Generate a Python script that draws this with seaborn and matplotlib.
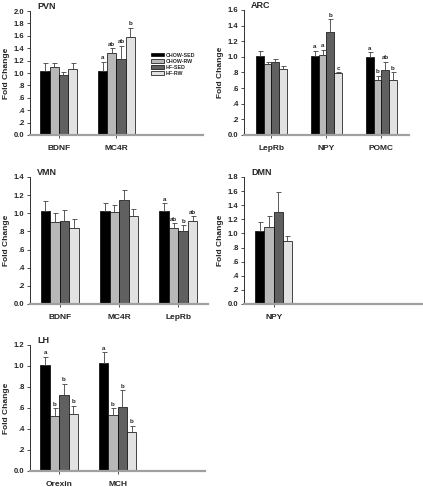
import numpy as np
import pandas as pd
import matplotlib
matplotlib.use("Agg")
import matplotlib.pyplot as plt
from matplotlib.patches import Patch
import seaborn as sns

sns.set_style("ticks")
plt.rcParams["font.family"] = ["Liberation Sans", "DejaVu Sans"]
plt.rcParams["font.weight"] = "bold"

# ── DATA ──────────────────────────────────────────────────────
groups = ["CHOW-SED", "CHOW-RW", "HF-SED", "HF-RW"]
colors = ["#000000", "#b8b8b8", "#606060", "#e2e2e2"]

pvn_genes = ["BDNF", "MC4R"]
pvn_mean = [[1.04, 1.09, 0.96, 1.07], [1.04, 1.33, 1.23, 1.58]]
pvn_sem = [[0.12, 0.07, 0.06, 0.09], [0.14, 0.07, 0.21, 0.15]]
pvn_letters = [None, ["a", "ab", "ab", "b"]]

arc_genes = ["LepRb", "NPY", "POMC"]
arc_mean = [[1.01, 0.91, 0.93, 0.85], [1.01, 1.03, 1.32, 0.79], [1.00, 0.71, 0.83, 0.70]]
arc_sem = [[0.06, 0.03, 0.04, 0.03], [0.07, 0.06, 0.16, 0.01], [0.06, 0.05, 0.11, 0.10]]
arc_letters = [None, ["a", "a", "b", "c"], ["a", "b", "ab", "b"]]

vmn_genes = ["BDNF", "MC4R", "LepRb"]
vmn_mean = [[1.03, 0.90, 0.92, 0.84], [1.02, 1.01, 1.15, 0.97], [1.02, 0.84, 0.81, 0.91]]
vmn_sem = [[0.10, 0.10, 0.12, 0.10], [0.09, 0.08, 0.11, 0.08], [0.09, 0.05, 0.06, 0.06]]
vmn_letters = [None, None, ["a", "ab", "b", "ab"]]

dmn_genes = ["NPY"]
dmn_mean = [[1.04, 1.09, 1.31, 0.89]]
dmn_sem = [[0.12, 0.15, 0.27, 0.08]]
dmn_letters = [None]

lh_genes = ["Orexin", "MCH"]
lh_mean = [[1.01, 0.52, 0.72, 0.54], [1.03, 0.53, 0.61, 0.37]]
lh_sem = [[0.08, 0.08, 0.11, 0.08], [0.10, 0.07, 0.16, 0.06]]
lh_letters = [["a", "b", "b", "b"], ["a", "b", "b", "b"]]


def draw_panel(fig, rect, name, genes, means, sems, letters, ymax, gw):
    ax = fig.add_axes(rect)
    df = pd.DataFrame([(g, grp, means[i][j], sems[i][j])
                       for i, g in enumerate(genes) for j, grp in enumerate(groups)],
                      columns=["gene", "group", "value", "sem"])
    sns.barplot(data=df, x="gene", y="value", hue="group", order=genes,
                hue_order=groups, palette=colors, width=gw, edgecolor="black",
                linewidth=0.5, errorbar=None, legend=False, ax=ax)
    # upper error bars + significance letters
    bar_conts = list(ax.containers)
    for j, cont in enumerate(bar_conts):
        for i, bar in enumerate(cont.patches):
            x = bar.get_x() + bar.get_width() / 2
            h = bar.get_height()
            e = sems[i][j]
            ax.errorbar(x, h, yerr=[[0], [e]], fmt="none", ecolor="#404040",
                        elinewidth=0.6, capsize=1.8, capthick=0.6)
            if letters[i] is not None:
                ax.annotate(letters[i][j], (x, h + e), xytext=(0, 1),
                            textcoords="offset points", ha="center", va="bottom",
                            fontsize=4.5, fontweight="bold")
    ax.set_xlim(-0.5, 2.5)
    ax.set_ylim(0, ymax)
    ticks = np.arange(0, ymax + 0.01, 0.2)
    labs = []
    for v in ticks:
        s = f"{v:.1f}"
        if s.startswith("0.") and v > 0:
            s = s[1:]
        labs.append(s)
    ax.set_yticks(ticks)
    ax.set_yticklabels(labs, fontsize=5.5, fontweight="bold")
    ax.tick_params(axis="y", length=2.5, width=0.6, pad=1.5, color="#303030")
    ax.tick_params(axis="x", length=2.5, width=0.6, pad=5, color="#303030")
    for lab in ax.get_xticklabels():
        lab.set_fontsize(6)
        lab.set_fontweight("bold")
    ax.set_xlabel("")
    ax.set_ylabel("Fold Change", fontsize=6, fontweight="bold", labelpad=3)
    sns.despine(ax=ax)
    ax.spines["bottom"].set_color("#a0a0a0")
    ax.spines["bottom"].set_linewidth(1.6)
    ax.spines["left"].set_color("#303030")
    ax.spines["left"].set_linewidth(0.7)
    ax.text(0.04, 1.035, name, transform=ax.transAxes, fontsize=6.5,
            fontweight="bold", ha="left", va="center")
    return ax


fig = plt.figure(figsize=(4.23, 4.87), dpi=100)
fig.patch.set_facecolor("white")

ax_pvn = draw_panel(fig, [0.0709, 0.7228, 0.409, 0.2546], "PVN", pvn_genes,
                    pvn_mean, pvn_sem, pvn_letters, 2.0, 0.64)
draw_panel(fig, [0.5768, 0.7228, 0.390, 0.2567], "ARC", arc_genes,
           arc_mean, arc_sem, arc_letters, 1.6, 0.56)
draw_panel(fig, [0.0709, 0.3758, 0.421, 0.2608], "VMN", vmn_genes,
           vmn_mean, vmn_sem, vmn_letters, 1.4, 0.64)
draw_panel(fig, [0.5768, 0.3758, 0.421, 0.2608], "DMN", dmn_genes,
           dmn_mean, dmn_sem, dmn_letters, 1.8, 0.62)
draw_panel(fig, [0.0709, 0.0329, 0.414, 0.2587], "LH", lh_genes,
           lh_mean, lh_sem, lh_letters, 1.2, 0.64)

handles = [Patch(facecolor=c, edgecolor="black", linewidth=0.5, label=g)
           for g, c in zip(groups, colors)]
leg = ax_pvn.legend(handles=handles, loc="upper left", bbox_to_anchor=(0.70, 0.665),
                    frameon=False, fontsize=3.8, handlelength=2.4, handleheight=0.65,
                    labelspacing=0.2, handletextpad=0.4, borderpad=0, borderaxespad=0)
for t in leg.get_texts():
    t.set_fontweight("bold")

fig.savefig("out.png", dpi=100, facecolor="white")
